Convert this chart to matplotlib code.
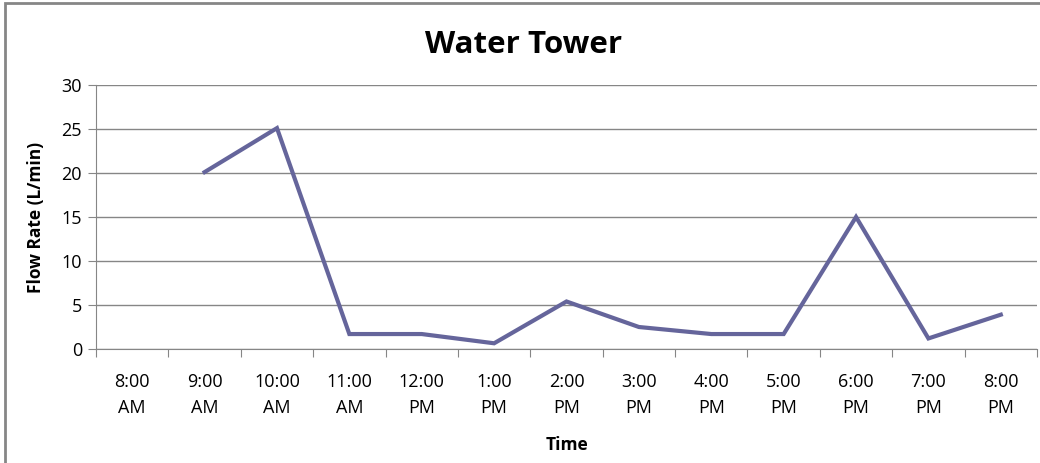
import numpy as np
import matplotlib.pyplot as plt
from matplotlib.patches import Rectangle

# hourly readings, 8 AM reading missing
times = ["8:00\nAM", "9:00\nAM", "10:00\nAM", "11:00\nAM", "12:00\nPM", "1:00\nPM",
         "2:00\nPM", "3:00\nPM", "4:00\nPM", "5:00\nPM", "6:00\nPM", "7:00\nPM", "8:00\nPM"]
flow = [np.nan, 20.1, 25.1, 1.7, 1.7, 0.65, 5.4, 2.5, 1.7, 1.7, 15.0, 1.2, 3.9]
yticks = [0, 5, 10, 15, 20, 25, 30]

plt.rcParams['font.family'] = ['Open Sans', 'DejaVu Sans']
grey = '#868686'

fig = plt.figure(figsize=(10.4, 4.63), dpi=100)
ax = fig.add_axes([96/1040, 1-349/463, 941/1040, 264/463])

x = np.arange(len(times))
ax.plot(x, flow, color='#65659b', lw=3, solid_joinstyle='miter')

ax.set_xlim(-0.5, len(times)-0.5)
ax.set_ylim(0, 30)
ax.set_yticks(yticks)
ax.yaxis.grid(True, color=grey, lw=1)
ax.set_axisbelow(True)

# tick marks between categories, labels centred on them
ax.set_xticks(np.arange(-0.5, len(times), 1.0))
ax.set_xticklabels([])
ax.set_xticks(x, minor=True)
ax.set_xticklabels(times, minor=True, fontsize=13, linespacing=1.6)
ax.tick_params(axis='x', which='major', length=6, color=grey, direction='out')
ax.tick_params(axis='x', which='minor', length=0, pad=17)
ax.tick_params(axis='y', length=6, color=grey, labelsize=13, pad=4)

for s in ['top', 'right']:
    ax.spines[s].set_visible(False)
for s in ['left', 'bottom']:
    ax.spines[s].set_color(grey)

fig.text(0.503, 1-45/463, "Water Tower", fontsize=22.5, fontweight='bold',
         ha='center', va='center')
ax.set_ylabel("Flow Rate (L/min)", fontsize=12.5, fontweight='bold', labelpad=12)
ax.set_xlabel("Time", fontsize=12.5, fontweight='bold', labelpad=14)

# chart area border
fig.patches.append(Rectangle((5/1040, -0.1), 1.2, 1.1 - 3/463, transform=fig.transFigure,
                             fill=False, edgecolor=grey, lw=2))

fig.savefig("out.png", dpi=100)
